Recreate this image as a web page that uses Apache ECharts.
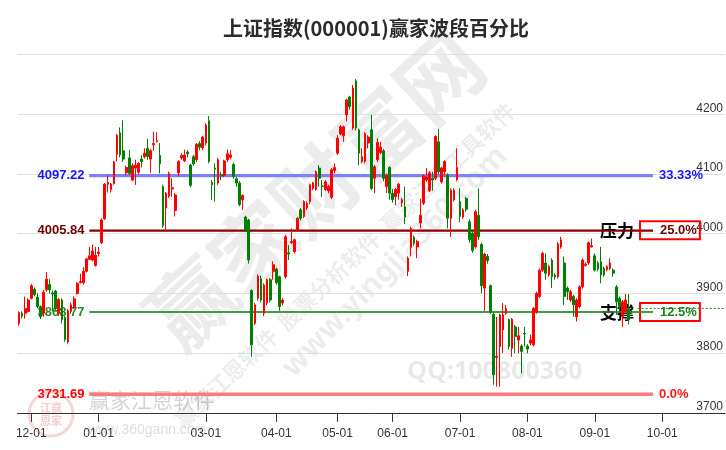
<!DOCTYPE html>
<html>
<head>
<meta charset="utf-8">
<script src="https://cdn.jsdelivr.net/npm/echarts@6/dist/echarts.min.js"></script>
<style>
html,body{margin:0;padding:0;background:#fff;}
#chart{width:726px;height:450px;}
</style>
</head>
<body>
<div id="chart"></div>
<script>
// ---- data ----
var titleText = '上证指数(000001)赢家波段百分比';
var slotCount = 231;
var tickIndex = [4, 26, 61, 84, 104, 122, 144, 166, 188, 210];
var tickLabels = ['12-01', '01-01', '03-01', '04-01', '05-01', '06-01', '07-01', '08-01', '09-01', '10-01'];
// [open, close, low, high]
var candles = [
[3850,3868,3846,3870],[3867,3862,3858,3870],[3867,3875,3858,3895],[3870,3889,3868,3892],[3892,3913,3890,3916],
[3907,3898,3895,3910],[3894,3878,3875,3900],[3878,3861,3857,3880],[3867,3902,3861,3906],[3906,3924,3903,3936],
[3915,3906,3900,3924],[3901,3899,3870,3905],[3904,3875,3870,3906],[3867,3890,3862,3892],[3889,3856,3850,3892],
[3860,3823,3819,3862],[3819,3871,3816,3874],[3870,3881,3866,3885],[3877,3891,3874,3895],[3900,3917,3898,3919],
[3918,3920,3917,3933],[3918,3937,3915,3944],[3937,3958,3935,3960],[3957,3963,3956,3978],[3956,3971,3954,3982],
[3947,3964,3945,3978],[3967,3969,3962,3978],[3985,4023,3983,4026],[4025,4083,4023,4085],[4083,4086,4069,4098],
[4074,4083,4069,4085],[4084,4120,4082,4122],[4133,4165,4121,4167],[4169,4132,4128,4178],[4139,4125,4120,4190],
[4102,4111,4098,4114],[4127,4101,4098,4140],[4090,4114,4088,4118],[4110,4115,4082,4124],[4103,4118,4100,4120],
[4125,4121,4111,4132],[4129,4135,4126,4143],[4143,4129,4124,4159],[4125,4139,4102,4142],[4149,4151,4139,4171],
[4154,4156,4153,4170],[4131,4117,4101,4152],[4079,4014,4010,4082],[4043,4068,4005,4070],[4063,4101,4060,4104],
[4075,4077,4062,4093],[4039,4065,4029,4068],[4102,4121,4096,4123],[4127,4131,4124,4135],[4122,4132,4120,4141],
[4137,4134,4128,4140],[4115,4081,4078,4117],[4129,4117,4114,4132],[4124,4150,4120,4152],[4151,4145,4140,4155],
[4144,4162,4140,4164],[4152,4182,4148,4185],[4189,4121,4118,4197],[4086,4082,4057,4090],[4110,4108,4054,4118],
[4085,4124,4082,4127],[4099,4097,4090,4104],[4098,4122,4095,4124],[4124,4134,4120,4141],[4128,4132,4125,4140],
[4116,4096,4092,4119],[4092,4085,4079,4095],[4085,4049,4046,4088],[4057,4064,4040,4066],[4028,4006,4003,4030],
[4023,3956,3950,4025],[3905,3814,3794,3907],[3850,3881,3847,3884],[3892,3929,3888,3932],[3925,3889,3885,3930],
[3867,3914,3862,3917],[3884,3923,3880,3925],[3923,3889,3885,3926],[3937,3948,3923,3954],[3941,3918,3915,3943],
[3928,3878,3871,3930],[3884,3889,3880,3892],[3928,3995,3925,3998],[3968,3966,3956,3981],[3985,3987,3983,4009],
[3970,3990,3967,3992],[4006,4026,4003,4028],[4040,4026,4022,4043],[4029,4054,4026,4056],[4043,4051,4040,4054],
[4054,4082,4050,4084],[4076,4085,4073,4087],[4074,4104,4072,4106],[4110,4093,4079,4115],[4080,4079,4062,4090],
[4074,4087,4072,4090],[4072,4079,4068,4082],[4061,4107,4058,4110],[4106,4111,4101,4118],[4135,4160,4132,4165],
[4167,4179,4165,4182],[4164,4179,4154,4181],[4199,4224,4188,4226],[4229,4213,4208,4231],[4177,4244,4174,4249],
[4256,4177,4173,4259],[4174,4135,4115,4176],[4121,4129,4118,4143],[4121,4168,4118,4170],[4152,4162,4143,4165],
[4174,4076,4073,4199],[4093,4112,4068,4115],[4124,4153,4120,4160],[4136,4145,4133,4154],[4139,4093,4088,4142],
[4079,4098,4068,4101],[4111,4068,4057,4113],[4068,4057,4052,4075],[4062,4074,4048,4077],[4068,4083,4057,4085],
[4052,4057,4045,4060],[4045,4028,4016,4079],[3937,3959,3929,3962],[3977,4009,3962,4012],[3994,3984,3980,3997],
[3978,3987,3959,3990],[4018,4031,4009,4059],[4051,4097,4048,4099],[4090,4095,4087,4110],[4072,4102,4070,4105],
[4093,4090,4072,4104],[4093,4163,4090,4165],[4154,4104,4100,4176],[4087,4110,4084,4112],[4104,4121,4096,4123],
[4098,4026,4009,4101],[4026,4073,3995,4076],[4057,4073,4054,4076],[4091,4111,4088,4143],[4054,4029,4019,4076],
[4028,4040,4025,4043],[4059,4041,4037,4062],[4020,3990,3985,4024],[4001,3972,3968,4004],[3978,4037,3975,4040],
[4031,3995,3990,4076],[3982,3913,3900,3985],[3909,3966,3870,3968],[3962,3955,3950,3966],[3913,3870,3866,3915],
[3865,3764,3747,3868],[3793,3795,3744,3861],[3811,3864,3744,3866],[3839,3864,3800,3884],[3867,3875,3864,3881],
[3856,3811,3806,3858],[3808,3857,3794,3859],[3844,3828,3800,3847],[3822,3829,3800,3844],[3812,3803,3766,3815],
[3833,3832,3811,3844],[3812,3807,3800,3815],[3817,3822,3813,3831],[3814,3875,3811,3877],[3870,3900,3866,3903],
[3895,3939,3892,3942],[3939,3967,3936,3970],[3951,3934,3923,3967],[3931,3945,3928,3948],[3956,3928,3909,3959],
[3931,3928,3923,3934],[3928,3983,3925,3986],[3978,3990,3975,3995],[3951,3895,3881,3962],[3909,3903,3889,3912],
[3889,3903,3886,3906],[3895,3881,3861,3898],[3861,3889,3853,3892],[3878,3911,3875,3914],[3911,3956,3908,3959],
[3947,3949,3945,3952],[3951,3985,3948,3987],[3978,3980,3977,3992],[3963,3939,3937,3967],[3951,3941,3937,3954],
[3953,3931,3917,3978],[3942,3931,3928,3945],[3940,3945,3937,3947],[3942,3951,3939,3959],[3939,3934,3928,3942],
[3911,3886,3864,3914],[3892,3878,3872,3895],[3861,3886,3844,3889],[3870,3889,3866,3899],[3875,3856,3848,3899]
];
var levelValues = [4097.22, 4005.84, 3868.77, 3731.69];
var levelPercents = ['33.33%', '25.0%', '12.5%', '0.0%'];
var levelTags = ['', '压力', '支撑', ''];
var levelStart = 23, levelEnd = 207;
var lastPriceLine = 3875;
var lastLineRange = [202, 230];
var yMin = 3700, yMax = 4300, yStep = 100;

// ---- build ----
var categories = [];
for (var i = 0; i < slotCount; i++) categories.push(String(i));
var labelMap = {};
tickIndex.forEach(function (t, k) { labelMap[t] = tickLabels[k]; });
function isTick(idx) { return labelMap[idx] !== undefined; }

var lineColors = ['#8080ff', '#8b0000', '#339933', '#ff7b7b'];
var lineWidths = [3, 1.5, 1.5, 3];
var leftColors = ['#1414ff', '#700000', '#2a8a2a', '#ff0000'];
var rightColors = ['#1414ff', '#700000', '#1f851f', '#ff1a1a'];
var labelFont = 'Liberation Sans, Arial, sans-serif';

var series = [{
  type: 'candlestick',
  data: candles,
  barWidth: 2.2,
  z: 5,
  itemStyle: {
    color: '#ff0000', color0: '#008000',
    borderColor: '#ff0000', borderColor0: '#008000', borderWidth: 1
  }
}];

levelValues.forEach(function (v, k) {
  var boxed = levelTags[k] !== '';
  var endLabel = boxed ? {
    show: true,
    offset: [-61, 0],
    formatter: function () { return '{a|' + levelTags[k] + '}{b|' + levelPercents[k] + '}'; },
    rich: {
      a: { fontSize: 17, fontWeight: 'bold', color: '#000', fontFamily: 'Noto Sans CJK SC', padding: [0, 6, 0, 0] },
      b: { fontSize: 13, fontWeight: 'bold', color: rightColors[k], fontFamily: labelFont,
           borderColor: '#ff0000', borderWidth: 2, padding: [3, 3, 2, 20] }
    }
  } : {
    show: true,
    distance: 6,
    formatter: function () { return levelPercents[k]; },
    fontSize: 13, fontWeight: 'bold', color: rightColors[k], fontFamily: labelFont
  };
  series.push({
    type: 'line',
    z: 3,
    symbol: 'none',
    silent: true,
    data: [[levelStart, v], [levelEnd, v]],
    lineStyle: { color: lineColors[k], width: lineWidths[k] },
    endLabel: endLabel,
    markLine: {
      silent: true,
      symbol: 'none',
      lineStyle: { color: lineColors[k], width: lineWidths[k], type: 'solid' },
      label: {
        show: true, position: 'start', distance: 5,
        formatter: v.toFixed(2),
        fontSize: 13, fontWeight: 'bold', color: leftColors[k], fontFamily: labelFont
      },
      data: [[{ coord: [levelStart, v] }, { coord: [levelEnd, v] }]]
    }
  });
});

series.push({
  type: 'line', z: 4, symbol: 'none', silent: true,
  data: [[lastLineRange[0], lastPriceLine], [lastLineRange[1], lastPriceLine]],
  lineStyle: { color: '#1f7a1f', width: 1, type: [2, 2] }
});

var wm = 'rgba(0,0,0,0.075)';
var option = {
  animation: false,
  backgroundColor: '#fff',
  title: {
    text: titleText, left: 218, top: 13,
    textStyle: { fontSize: 20, fontWeight: 'bold', color: '#2b2b2b', fontFamily: 'Noto Sans CJK SC' }
  },
  grid: { left: 17.5, right: 0, top: 54.6, bottom: 37.1 },
  xAxis: {
    type: 'category',
    data: categories,
    boundaryGap: true,
    axisLine: { lineStyle: { color: '#333', width: 1 } },
    axisTick: { show: true, alignWithLabel: true, interval: function (idx) { return isTick(idx); }, length: 9, lineStyle: { color: '#333' } },
    axisLabel: {
      interval: function (idx) { return isTick(idx); },
      formatter: function (val, idx) { return labelMap[idx] || ''; },
      margin: 15, fontSize: 12, color: '#333', fontFamily: labelFont
    },
    splitLine: { show: false }
  },
  yAxis: {
    type: 'value', min: yMin, max: yMax, interval: yStep, position: 'right',
    axisLine: { show: false }, axisTick: { show: false },
    axisLabel: {
      inside: true, margin: 2, verticalAlign: 'bottom', fontSize: 12, color: '#333', fontFamily: labelFont,
      formatter: function (v) { return v === yMax ? '' : String(v); }
    },
    splitLine: { lineStyle: { color: '#e0e0e0', width: 1 } }
  },
  graphic: [
    { type: 'text', x: 315, y: 190, rotation: 0.74, z: 0, silent: true,
      style: { text: '赢家财富网', font: 'bold 84px "Noto Sans CJK SC"', fill: wm, textAlign: 'center', textVerticalAlign: 'middle' } },
    { type: 'text', x: 345, y: 265, rotation: 0.76, z: 0, silent: true,
      style: { text: '赢家江恩软件  股票分析软件  赢家江恩工具软件', font: 'bold 22px "Noto Sans CJK SC"', fill: wm, textAlign: 'center', textVerticalAlign: 'middle' } },
    { type: 'text', x: 395, y: 262, rotation: 0.8, z: 0, silent: true,
      style: { text: 'www.yingjia360.com', font: 'bold 30px "Noto Sans"', fill: wm, textAlign: 'center', textVerticalAlign: 'middle' } },
    { type: 'text', x: 495, y: 372, z: 0, silent: true,
      style: { text: 'QQ:100800360', font: 'bold 25px "Noto Sans"', fill: 'rgba(0,0,0,0.09)', textAlign: 'center', textVerticalAlign: 'middle' } },
    { type: 'circle', shape: { cx: 51, cy: 414, r: 22 }, z: 0, silent: true,
      style: { fill: 'none', stroke: 'rgba(210,90,90,0.25)', lineWidth: 3 } },
    { type: 'text', x: 51, y: 414, z: 0, silent: true,
      style: { text: '江赢\n恩家', font: 'bold 11px "Noto Sans CJK SC"', fill: 'rgba(210,90,90,0.3)', textAlign: 'center', textVerticalAlign: 'middle', lineHeight: 13 } },
    { type: 'text', x: 89, y: 400, z: 0, silent: true,
      style: { text: '赢家江恩软件', font: '21px "Noto Sans CJK SC"', fill: 'rgba(0,0,0,0.18)', textAlign: 'left', textVerticalAlign: 'middle' } },
    { type: 'text', x: 88, y: 430, z: 0, silent: true,
      style: { text: 'www.360gann.com', font: '14px "Liberation Sans"', fill: 'rgba(0,0,0,0.14)', textAlign: 'left', textVerticalAlign: 'middle' } }
  ],
  series: series
};

var chart = echarts.init(document.getElementById('chart'), null, { renderer: 'canvas' });
chart.setOption(option);
</script>
</body>
</html>
